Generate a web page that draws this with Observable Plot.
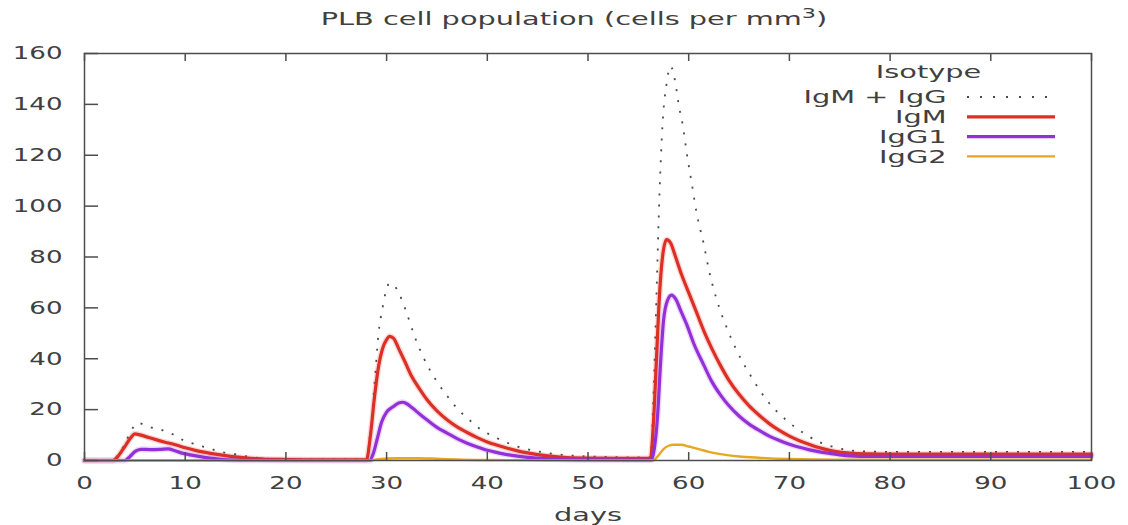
<!DOCTYPE html>
<html><head><meta charset="utf-8">
<script src="https://cdn.jsdelivr.net/npm/d3@7"></script>
<script src="https://cdn.jsdelivr.net/npm/@observablehq/plot@0.6"></script>
<style>
body{margin:0;background:#fff;}
#chart svg{display:block;}
</style></head><body><div id="chart"></div>
<script>
const titleText = "PLB cell population (cells per mm³)";
const xLabel = "days";
const legendTitle = "Isotype";
const seriesNames = ["IgM + IgG", "IgM", "IgG1", "IgG2"];
const xTicks = [0, 10, 20, 30, 40, 50, 60, 70, 80, 90, 100];
const yTicks = [0, 20, 40, 60, 80, 100, 120, 140, 160];

// [day, cells per mm3]
const igmIggTotal = [[0,0],[2.8,0],[3.3,2],[4,6.5],[4.6,11.5],[5.3,14.8],[6,13.9],[6.7,12.9],[7.5,12.1],[8.2,11.4],[9,9.8],[9.8,8],[10.8,6.6],[11.5,5.7],[12.2,5],[13,4],[13.6,3.3],[14.5,2.8],[15.3,2.2],[16.8,1.2],[18,0.7],[20,0.5],[25,0.4],[28,0.4],
[28.4,12],[28.8,30],[29.2,50],[29.6,60],[29.9,66],[30.3,69.7],[30.7,69],[31.2,66],[31.9,59],[32.9,47.5],[34.2,36.3],[35,31],[35.9,26],[37,20.5],[38.2,16],[39,13.2],[40.2,10.3],[41.5,7.8],[42.9,5.6],[44.5,4],[45.9,3],[47.5,2.2],[50,1.6],[53,1.3],[56.2,1.2],
[56.5,25],[56.8,65],[57.1,105],[57.4,132],[57.8,148],[58.2,155],[58.7,148],[59,140],[59.4,132],[59.8,121],[60.3,109],[60.8,97],[61.5,85],[62,75],[62.8,63],[63.8,52],[64.8,43],[66.2,33],[67.8,23.5],[69.8,15.5],[71.8,9.8],[73,7.2],[74.5,5.2],[76,4],[77,3.6],[80,3.4],[100,3.4]];

const igm = [[0,0],[2.8,0],[3.3,1.5],[4,5.5],[4.6,9],[5,10.5],[6,9.5],[7,8.3],[8,7.2],[9,6.2],[10,5],[11,4],[12,3.2],[13,2.5],[14,1.9],[15,1.4],[16,1],[17,0.7],[18,0.5],[20,0.4],[22,0.3],[25,0.3],[28,0.3],
[28.4,10],[28.8,25],[29.2,37],[29.6,44],[30,47.5],[30.3,48.8],[30.7,48],[31.2,44],[31.8,39],[32.5,33],[33.3,28],[34,24],[35,19.5],[36,16],[37,13.2],[38,11],[39,9],[40,7.3],[41,6],[42,4.8],[43,3.8],[44,3],[45,2.3],[46,1.8],[47,1.4],[48,1.1],[50,0.9],[53,0.8],[56.2,0.8],
[56.5,15],[56.8,40],[57.1,65],[57.4,80],[57.8,86.8],[58.2,85.5],[58.7,80],[59.3,73],[60,66],[60.8,58],[61.5,51],[62.3,44],[63.2,37],[64,31.5],[65,26],[66,21.5],[67,17.8],[68,14.5],[69,11.8],[70,9.6],[71,7.8],[72,6.3],[73,5],[74,4],[75,3.3],[76,2.9],[78,2.6],[80,2.5],[100,2.5]];

const igg1 = [[0,0],[4,0],[4.5,1.5],[5,3.5],[5.6,4.4],[6.5,4.3],[7.5,4.4],[8.3,4.6],[9,3.8],[9.8,2.8],[10.5,2.2],[11.5,1.5],[12.5,0.9],[13.5,0.5],[15,0.2],[16,0.1],[28.3,0],
[28.7,3],[29.1,9],[29.5,15],[30,19],[30.6,21],[31.2,22.6],[31.6,22.9],[32,22.3],[32.6,20.5],[33.3,18.2],[34,16],[35,13],[36,10.8],[37,8.6],[38,6.8],[39,5.3],[40,4],[41,3.1],[42,2.3],[43,1.7],[44,1.2],[45,0.9],[47,0.5],[50,0.3],[56.3,0.2],
[56.6,5],[56.9,17],[57.2,38],[57.5,55],[57.9,63],[58.3,65],[58.7,63.5],[59.2,59],[59.8,53.5],[60.5,46],[61.5,37.5],[62.3,31],[63.2,25.5],[64,21.5],[65,17.5],[66,14.3],[67,11.8],[68,9.6],[69,7.9],[70,6.4],[71,5.2],[72,4.2],[73,3.4],[74,2.8],[75,2.2],[76,1.8],[78,1.6],[100,1.6]];

const igg2 = [[0,0],[28.5,0],[29,0.4],[30,0.8],[31,0.9],[33,0.9],[35,0.7],[37,0.4],[40,0.2],[45,0.1],[56.5,0.1],[57,2],[57.5,4.5],[58,5.8],[58.5,6.2],[59.3,6.2],[60,5.5],[61,4.5],[62,3.4],[63,2.6],[64,2],[65,1.6],[67,1.1],[70,0.6],[75,0.3],[100,0.3]];

const seriesData = [igmIggTotal, igm, igg1, igg2];
const seriesColors = ["#4a4a4a", "#dc2f25", "#9430d8", "#e6a820"];

const W = 1128, H = 525;
const M = {top: 53, right: 37, bottom: 65, left: 84};
const PW = W - M.left - M.right, PH = H - M.top - M.bottom;
const frameColor = "#4d4d4d", textColor = "#404040";

const rows = seriesData.flatMap((pts, i) => pts.map(([day, value]) => ({series: seriesNames[i], day, value})));
const bySeries = name => rows.filter(r => r.series === name);

const lineStyle = [
  {strokeWidth: 1.8, strokeDasharray: "2,9", strokeLinecap: "butt"},
  {strokeWidth: 3.2},
  {strokeWidth: 3.2},
  {strokeWidth: 2.4}
];

const plot = Plot.plot({
  width: W, height: H,
  marginTop: M.top, marginRight: M.right, marginBottom: M.bottom, marginLeft: M.left,
  style: {fontFamily: "'DejaVu Sans', sans-serif", fontSize: "18px", color: textColor, background: "#fff", overflow: "visible"},
  x: {domain: [0, 100], label: null},
  y: {domain: [0, 160], label: null},
  marks: [
    ...[1, 2].map(i => Plot.line(bySeries(seriesNames[i]), {x: "day", y: "value", stroke: seriesColors[i], strokeWidth: 6, strokeOpacity: 0.18, curve: "monotone-x"})),
    ...seriesNames.map((name, i) => Plot.line(bySeries(name), {x: "day", y: "value", stroke: seriesColors[i], curve: "monotone-x", ...lineStyle[i]})),
    Plot.frame({stroke: frameColor, strokeWidth: 1.5}),
    Plot.tickX(xTicks, {x: d => d, insetTop: PH - 8, stroke: frameColor, strokeWidth: 1.5}),
    Plot.tickX(xTicks, {x: d => d, insetBottom: PH - 8, stroke: frameColor, strokeWidth: 1.5}),
    Plot.tickY(yTicks, {y: d => d, insetRight: PW - 14, stroke: frameColor, strokeWidth: 1.5}),
    Plot.axisX(xTicks, {tickSize: 0, tickPadding: 16, fontSize: 18, fill: textColor, label: null, className: "xlab"}),
    Plot.axisY(yTicks, {tickSize: 0, tickPadding: 22, fontSize: 18, fill: textColor, label: null, className: "ylab"}),
    Plot.text([titleText], {text: d => d, frameAnchor: "top", dx: -14, dy: -34, fontSize: 18, fill: textColor, lineAnchor: "middle", className: "wide title"}),
    Plot.text([xLabel], {text: d => d, frameAnchor: "bottom", dy: 55, fontSize: 18, fill: textColor, lineAnchor: "middle", className: "wide"}),
    Plot.text([legendTitle], {text: d => d, frameAnchor: "top-right", dx: -163, dy: 19, fontSize: 18, fill: textColor, textAnchor: "middle", lineAnchor: "middle", className: "wide"}),
    Plot.text(seriesNames, {text: d => d, frameAnchor: "top-right", dx: -145, fontSize: 18, fill: textColor, textAnchor: "end", lineAnchor: "middle", className: "wide legend-entry"})
  ]
});

document.getElementById("chart").appendChild(plot);
const svg = d3.select(plot);

const rowOffset = i => 44 + 19.8 * i;
svg.selectAll("g.legend-entry text").each(function(d, i) {
  const t = d3.select(this);
  const tr = t.attr("transform") || "";
  t.attr("transform", `translate(0,${rowOffset(i)}) ${tr}`);
});

// superscript "3" in the title, as in the reference
svg.selectAll("g.title text").each(function() {
  const t = d3.select(this);
  const full = t.text();
  const k = full.indexOf("³");
  if (k < 0) return;
  t.text(null);
  t.append("tspan").text(full.slice(0, k));
  t.append("tspan").attr("dy", -7).attr("font-size", 14).text("3");
  t.append("tspan").attr("dy", 7).text(full.slice(k + 1));
});

// horizontally stretched glyphs like the reference
function stretch(sel, k) {
  sel.each(function() {
    const t = d3.select(this);
    const tr = t.attr("transform") || "";
    t.attr("transform", `${tr} scale(${k},1)`);
  });
}
stretch(svg.selectAll("g.xlab text, g.ylab text"), 1.45);
stretch(svg.selectAll("g.wide text"), 1.6);

// legend line samples
const lg = svg.append("g");
seriesNames.forEach((name, i) => {
  const y = M.top + rowOffset(i);
  lg.append("line").attr("x1", W - M.right - 124).attr("x2", W - M.right - 36)
    .attr("y1", y).attr("y2", y)
    .attr("stroke", seriesColors[i])
    .attr("stroke-width", lineStyle[i].strokeWidth)
    .attr("stroke-dasharray", i === 0 ? "2,11" : null);
});
</script></body></html>
